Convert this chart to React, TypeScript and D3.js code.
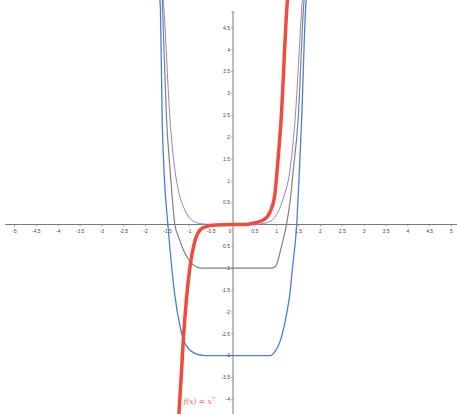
import React from 'react';
import { scaleLinear, line, curveMonotoneX, range } from 'd3';

const width = 457;
const height = 414;

// points, [x, y] in graph units
const redPts: [number, number][] = [
  [-1.25, -4.6], [-1.236, -4.32], [-1.19, -3.56], [-1.137, -2.64], [-1.06, -1.65],
  [-0.984, -0.966], [-0.886, -0.43], [-0.755, -0.126], [-0.6, -0.04], [-0.4, -0.01],
  [0, 0], [0.3, 0.0], [0.46, 0.03], [0.69, 0.1], [0.85, 0.29], [0.96, 0.71],
  [1.01, 1.25], [1.1, 2.39], [1.23, 4.91], [1.25, 5.2],
];
const purplePts: [number, number][] = [
  [-1.6, 5.2], [-1.58, 4.91], [-1.44, 2.39], [-1.366, 1.55], [-1.252, 0.79],
  [-1.137, 0.41], [-0.984, 0.14], [-0.83, 0.04], [-0.65, 0.01], [-0.4, 0],
  [0, 0], [0.4, 0], [0.6, 0.01], [0.77, 0.04], [0.98, 0.2], [1.15, 0.6],
  [1.3, 1.22], [1.42, 2.39], [1.57, 4.91], [1.59, 5.2],
];
const grayPts: [number, number][] = [
  [-1.62, 5.2], [-1.61, 4.91], [-1.52, 2.39], [-1.44, 1.25], [-1.33, 0.0],
  [-1.24, -0.3], [-1.1, -0.66], [-0.945, -0.89], [-0.716, -1.0], [-0.4, -1.0],
  [0, -1], [0.4, -1], [0.885, -1.0], [0.98, -0.95], [1.11, -0.5], [1.23, 0.03],
  [1.32, 0.64], [1.38, 1.25], [1.49, 2.39], [1.61, 4.91], [1.63, 5.2],
];
const bluePts: [number, number][] = [
  [-1.68, 5.2], [-1.66, 4.91], [-1.62, 2.39], [-1.58, 1.25], [-1.49, 0],
  [-1.4, -1.0], [-1.327, -1.65], [-1.21, -2.34], [-1.1, -2.72], [-0.87, -2.95],
  [-0.64, -3.0], [-0.4, -3], [0, -3], [0.4, -3], [0.85, -3], [0.96, -2.91],
  [1.11, -2.57], [1.23, -2.03], [1.3, -1.6], [1.36, -1.0], [1.46, 0.03],
  [1.52, 1.25], [1.57, 2.39], [1.66, 4.91], [1.68, 5.2],
];

const xTicks = range(-5, 5.01, 0.5).filter(d => Math.abs(d) > 1e-9);
const yTicks = range(-4, 4.51, 0.5).filter(d => Math.abs(d) > 1e-9);

const x = scaleLinear().domain([-5, 5]).range([14.5, 451.5]);
const y = scaleLinear().domain([-4, 4.5]).range([399.3, 27.85]);

const fmt = (d: number) => (Number.isInteger(d) ? String(d) : d.toFixed(1));

const App = () => {
  const path = line<[number, number]>()
    .x(d => x(d[0]))
    .y(d => y(d[1]))
    .curve(curveMonotoneX);

  const x0 = x(0);
  const y0 = y(0);
  const tickFont = { fontFamily: 'Liberation Sans, Arial, sans-serif', fontSize: 5, fill: '#444' };

  return (
    <div style={{ position: 'absolute', left: 0, top: 0 }}>
      <svg width={width} height={height} style={{ display: 'block', background: '#fff' }}>
        {/* axes */}
        <line x1={5} x2={width} y1={y0} y2={y0} stroke="#7a7a7a" strokeWidth={1} />
        <line x1={x0} x2={x0} y1={12} y2={height} stroke="#7a7a7a" strokeWidth={1} />
        <line x1={x0 - 1.5} x2={x0 + 1.5} y1={12} y2={12} stroke="#7a7a7a" strokeWidth={0.8} />

        {xTicks.map(d => (
          <g key={'x' + d}>
            <line x1={x(d)} x2={x(d)} y1={y0} y2={y0 + 2} stroke="#7a7a7a" strokeWidth={0.6} />
            <text x={x(d)} y={y0 + 8} textAnchor="middle" style={tickFont}>{fmt(d)}</text>
          </g>
        ))}
        <text x={x0 - 3} y={y0 + 8} textAnchor="middle" style={tickFont}>0</text>

        {yTicks.map(d => (
          <g key={'y' + d}>
            <line x1={x0 - 2} x2={x0} y1={y(d)} y2={y(d)} stroke="#7a7a7a" strokeWidth={0.6} />
            <text x={x0 - 3} y={y(d) + 1.8} textAnchor="end" style={tickFont}>{fmt(d)}</text>
          </g>
        ))}

        {/* curves */}
        <path d={path(bluePts) || ''} fill="none" stroke="#4a7ed8" strokeWidth={1.3} />
        <path d={path(grayPts) || ''} fill="none" stroke="#808080" strokeWidth={1.2} />
        <path d={path(purplePts) || ''} fill="none" stroke="#9182d2" strokeWidth={1} />
        <path d={path(redPts) || ''} fill="none" stroke="#f44a3d" strokeWidth={3.5} strokeLinecap="round" />

        <text x={183.5} y={404} style={{ fontFamily: 'DejaVu Serif, serif', fontSize: 7.5, fontStyle: 'italic', fill: '#f06456' }}>
          f(x) = x<tspan dy={-3} fontSize={5}>7</tspan>
        </text>
      </svg>
    </div>
  );
};

export default App;
